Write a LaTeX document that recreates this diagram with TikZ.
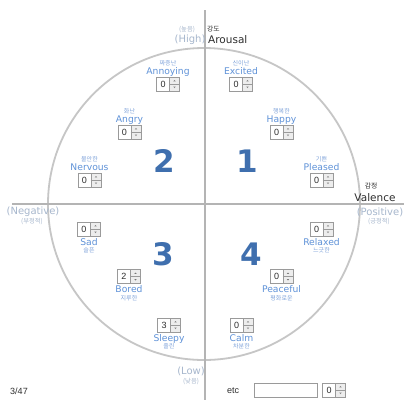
\documentclass[tikz,border=0pt]{standalone}
\usepackage{fontspec}
\setmainfont{DejaVu Sans}
\newfontfamily\krfont{Noto Sans CJK KR}
\newfontfamily\arialfont{Liberation Sans}
\usetikzlibrary{calc}
\definecolor{lblue}{HTML}{5F92D8}
\definecolor{kblue}{HTML}{7FA3DA}
\definecolor{pgray}{HTML}{A7B7CD}
\definecolor{bigblue}{HTML}{3F6FAE}
\definecolor{circgray}{HTML}{C6C6C6}
\definecolor{axisgray}{HTML}{B4B4B4}
\definecolor{boxgray}{HTML}{9A9A9A}
\definecolor{spingray}{HTML}{EDEDED}
\definecolor{arrowgray}{HTML}{777777}
\definecolor{darktext}{HTML}{2E2E2E}
\tikzset{
  eng/.style={font=\fontsize{9.2}{10}\selectfont, text=lblue, inner sep=0pt, anchor=base},
  kor/.style={font=\krfont\fontsize{6}{7}\selectfont, text=kblue, inner sep=0pt, anchor=base},
  paren/.style={font=\fontsize{10}{11}\selectfont, text=pgray, inner sep=0pt, anchor=base},
  parenkr/.style={font=\krfont\fontsize{6.3}{7}\selectfont, text=pgray, inner sep=0pt, anchor=base},
  axname/.style={font=\fontsize{10.5}{11}\selectfont, text=darktext, inner sep=0pt, anchor=base},
  axkr/.style={font=\krfont\fontsize{6.8}{7}\selectfont, text=darktext, inner sep=0pt, anchor=base},
  bignum/.style={font=\bfseries\fontsize{31}{31}\selectfont, text=bigblue, inner sep=0pt},
  plain/.style={font=\arialfont\fontsize{9}{10}\selectfont, text=darktext, inner sep=0pt},
  numfield/.style={draw=boxgray, fill=white, line width=0.6pt, minimum width=13pt, minimum height=14pt, inner sep=0pt, font=\arialfont\fontsize{9}{10}\selectfont, text=darktext},
  spinnerbox/.style={draw=boxgray, fill=spingray, line width=0.6pt, minimum width=10pt, minimum height=14pt, inner sep=0pt},
  textfield/.style={draw=boxgray, fill=white, line width=0.6pt, minimum width=63pt, minimum height=14pt, inner sep=0pt},
  circ/.style={draw=circgray, line width=1.8pt},
  axis/.style={draw=axisgray, line width=1.3pt},
}
\newcommand\spinbox[4]{%
  \node[numfield] (#1n) at (#2-5,#3) {#4};
  \node[spinnerbox] (#1s) at (#2+6.5,#3) {};
  \draw[boxgray, line width=0.5pt] (#1s.west) -- (#1s.east);
  \fill[arrowgray] ($(#1s.center)+(-1.2,-2.7)$) -- ++(2.4,0) -- ++(-1.2,-1.3) -- cycle;
  \fill[arrowgray] ($(#1s.center)+(-1.2,2.7)$) -- ++(2.4,0) -- ++(-1.2,1.3) -- cycle;
}
\newcommand\emotop[6]{%
  \node[kor] (#1k) at (#2,#3+2.2) {#4};
  \node[eng] (#1e) at (#2,#3+11.6) {#5};
  \spinbox{#1}{#2}{#3+21}{#6}
}
\newcommand\emobot[6]{%
  \spinbox{#1}{#2}{#3}{#6}
  \node[eng] (#1e) at (#2,#3+16.2) {#5};
  \node[kor] (#1k) at (#2,#3+23.6) {#4};
}
\begin{document}
\begin{tikzpicture}[x=1pt,y=-1pt]
\fill[white] (0,0) rectangle (406,400);
\useasboundingbox (0,0) rectangle (406,400);
\draw[circ] (204,204) circle[radius=156pt];
\draw[axis] (205,10) -- (205,400);
\draw[axis] (12,204) -- (404,204);
% axis labels
\node[parenkr] (highkr) at (187,31.5) {(높음)};
\node[paren] (high) at (190,42.5) {(High)};
\node[axkr, anchor=base west] (arkr) at (207,31.5) {강도};
\node[axname, anchor=base west] (arousal) at (208,43) {Arousal};
\node[axkr] (valkr) at (371,188.5) {감정};
\node[axname] (valence) at (375,201) {Valence};
\node[paren] (pos) at (380,215.5) {(Positive)};
\node[parenkr] (poskr) at (379,223.5) {(긍정적)};
\node[paren] (neg) at (33,214.5) {(Negative)};
\node[parenkr] (negkr) at (32,223.5) {(부정적)};
\node[paren] (low) at (191,374.5) {(Low)};
\node[parenkr] (lowkr) at (191,383.5) {(낮음)};
% quadrant numbers
\node[bignum] (q1) at (247,161) {1};
\node[bignum] (q2) at (164,161) {2};
\node[bignum] (q3) at (163,254) {3};
\node[bignum] (q4) at (251,254) {4};
% emotions
\emotop{annoy}{168}{63}{짜증난}{Annoying}{0}
\emotop{excit}{241}{63}{신이난}{Excited}{0}
\emotop{angry}{129.5}{111}{화난}{Angry}{0}
\emotop{happy}{281.5}{111}{행복한}{Happy}{0}
\emotop{nerv}{89.5}{159}{불안한}{Nervous}{0}
\emotop{pleas}{321.5}{159}{기쁜}{Pleased}{0}
\emobot{sad}{89}{229}{슬픈}{Sad}{0}
\emobot{relax}{321.5}{229}{느긋한}{Relaxed}{0}
\emobot{bored}{129}{276.5}{지루한}{Bored}{2}
\emobot{peace}{281.5}{276.5}{평화로운}{Peaceful}{0}
\emobot{sleep}{169}{325}{졸린}{Sleepy}{3}
\emobot{calm}{241.5}{325}{차분한}{Calm}{0}
% bottom bar
\node[plain] (count) at (19,391) {3/47};
\node[plain] (etc) at (233,391) {etc};
\node[textfield] (etcfield) at (285.5,390) {};
\spinbox{etcspin}{334}{390}{0}
\end{tikzpicture}
\end{document}
